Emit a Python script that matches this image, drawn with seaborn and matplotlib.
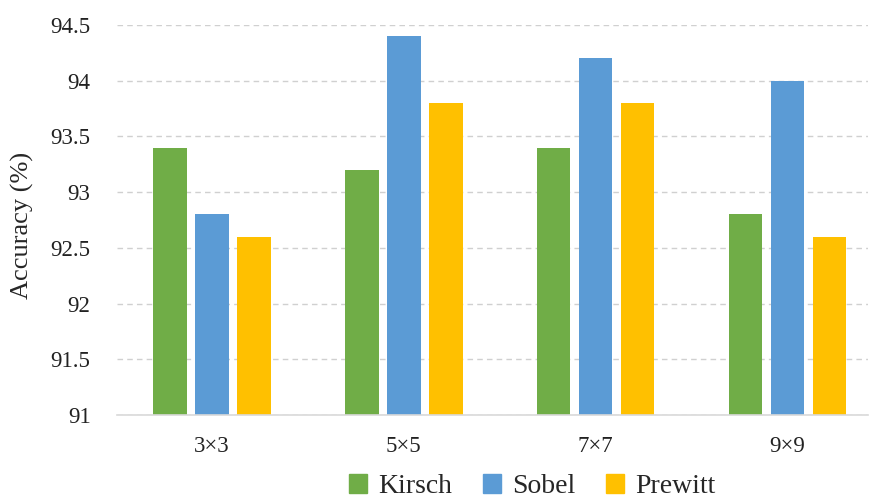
import pandas as pd
import matplotlib
matplotlib.use("Agg")
import matplotlib.pyplot as plt
import seaborn as sns

# data
sizes = ["3×3", "5×5", "7×7", "9×9"]
kirsch = [93.4, 93.2, 93.4, 92.8]
sobel = [92.8, 94.4, 94.2, 94.0]
prewitt = [92.6, 93.8, 93.8, 92.6]
methods = ["Kirsch", "Sobel", "Prewitt"]
colors = ["#70AD47", "#5B9BD5", "#FFC000"]
yticks = [91, 91.5, 92, 92.5, 93, 93.5, 94, 94.5]
ytick_labels = ["91", "91.5", "92", "92.5", "93", "93.5", "94", "94.5"]

df = pd.DataFrame({"size": sizes * 3,
                   "method": ["Kirsch"] * 4 + ["Sobel"] * 4 + ["Prewitt"] * 4,
                   "acc": kirsch + sobel + prewitt})

sns.set_style("white")
serif = ["Liberation Serif", "DejaVu Serif"]
plt.rcParams["font.family"] = serif

fig = plt.figure(figsize=(8.71, 5.03), dpi=100)
ax = fig.add_axes([117 / 871, 1 - 415 / 503, 751 / 871, 390 / 503])

sns.barplot(data=df, x="size", y="acc", hue="method", hue_order=methods,
            palette=colors, saturation=1, width=0.656, gap=0.2, ax=ax,
            legend=False, linewidth=0, bottom=0)

ax.set_ylim(91, 94.5)
ax.set_xlim(-0.495, 3.42)
ax.set_yticks(yticks)
ax.set_yticklabels(ytick_labels, fontfamily=serif, fontsize=16.5)
ax.set_xticks(range(len(sizes)))
ax.set_xticklabels(sizes, fontfamily=serif, fontsize=16.5)
ax.yaxis.grid(True, color="#D0D0D0", linestyle=(0, (4, 3)), linewidth=1)
ax.set_axisbelow(True)
for s in ["top", "right", "left"]:
    ax.spines[s].set_visible(False)
ax.spines["bottom"].set_color("#D9D9D9")
ax.spines["bottom"].set_linewidth(1.2)
ax.tick_params(axis="both", length=0, colors="#222222")
ax.tick_params(axis="y", pad=19)
ax.tick_params(axis="x", pad=15)
ax.set_xlabel("")
ax.set_ylabel("Accuracy (%)", fontsize=19, fontfamily=serif)
ax.yaxis.set_label_coords(-0.11, 0.487)

handles = [plt.Rectangle((0, 0), 1, 1, color=c) for c in colors]
fig.legend(handles, methods, loc="center", bbox_to_anchor=(532 / 871, 0.032),
           ncol=3, frameon=False, prop={"family": serif, "size": 20},
           handlelength=0.65, handleheight=0.65, handletextpad=0.4,
           columnspacing=1.1)

fig.savefig("out.png", dpi=100)
